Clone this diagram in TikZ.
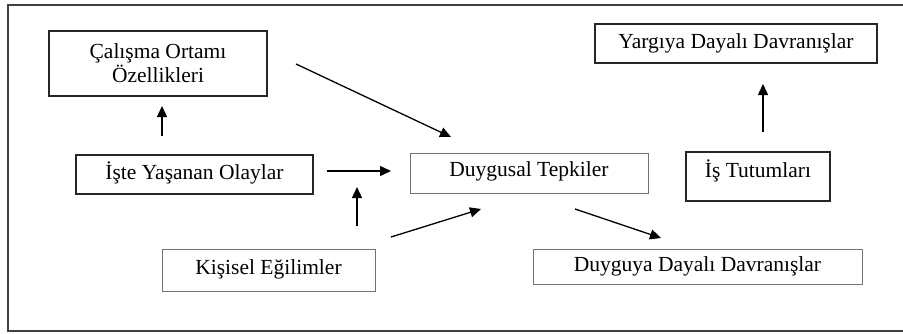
\documentclass[tikz,border=0pt]{standalone}
\usepackage{fontspec}
\setmainfont{Liberation Serif}
\usetikzlibrary{arrows.meta,calc}
\tikzset{
  darkbox/.style={draw=black!85, line width=1.6pt, inner sep=0pt},
  lightbox/.style={draw=black!55, line width=0.9pt, inner sep=0pt},
  lbl/.style={font=\fontsize{21.5}{25}\selectfont, align=center, inner sep=0pt},
  arr/.style={line width=1.3pt, -{Triangle[length=11pt,width=10pt]}},
}
\begin{document}
\begin{tikzpicture}[x=1pt,y=-1pt]
\useasboundingbox (0,0) rectangle (903,333);
\fill[white] (0,0) rectangle (903,333);
% outer frame (right side cut off)
\draw[line width=1.8pt, draw=black!75] (904,5) -- (8,5) -- (8,331) -- (904,331);

% boxes
\node[darkbox, minimum width=218pt, minimum height=65pt] (calisma) at (158,63.5) {};
\node[lbl] at (158,63.5) {Çalışma Ortamı\\[-1pt]Özellikleri};

\node[darkbox, minimum width=282pt, minimum height=39pt] (yargi) at (736,43.5) {};
\node[lbl] at (736,43) {Yargıya Dayalı Davranışlar};

\node[darkbox, minimum width=237pt, minimum height=39pt] (olay) at (194.5,174.5) {};
\node[lbl] at (194.5,173) {İşte Yaşanan Olaylar};

\node[lightbox, minimum width=238pt, minimum height=40pt] (tepki) at (529,173) {};
\node[lbl] at (529,171) {Duygusal Tepkiler};

\node[darkbox, minimum width=144pt, minimum height=49pt] (tutum) at (758,176.5) {};
\node[lbl] at (758,171) {İş Tutumları};

\node[lightbox, minimum width=213pt, minimum height=42pt] (egilim) at (268.5,270) {};
\node[lbl] at (268.5,269) {Kişisel Eğilimler};

\node[lightbox, minimum width=329pt, minimum height=35pt] (dduy) at (697.5,266.5) {};
\node[lbl] at (697.5,266) {Duyguya Dayalı Davranışlar};

% arrow end coordinates
\coordinate (a1s) at (296,64);  \coordinate (a1e) at (451,137);
\coordinate (a2s) at (162,136); \coordinate (a2e) at (162,106);
\coordinate (a3s) at (763,132); \coordinate (a3e) at (763,84);
\coordinate (a4s) at (327,171); \coordinate (a4e) at (391,171);
\coordinate (a5s) at (357,226); \coordinate (a5e) at (357,187);
\coordinate (a6s) at (391,237); \coordinate (a6e) at (481,209);
\coordinate (a7s) at (575,209); \coordinate (a7e) at (661,238);

\draw[arr] (a1s) -- (a1e);
\draw[arr] (a2s) -- (a2e);
\draw[arr] (a3s) -- (a3e);
\draw[arr] (a4s) -- (a4e);
\draw[arr] (a5s) -- (a5e);
\draw[arr] (a6s) -- (a6e);
\draw[arr] (a7s) -- (a7e);
\end{tikzpicture}
\end{document}
